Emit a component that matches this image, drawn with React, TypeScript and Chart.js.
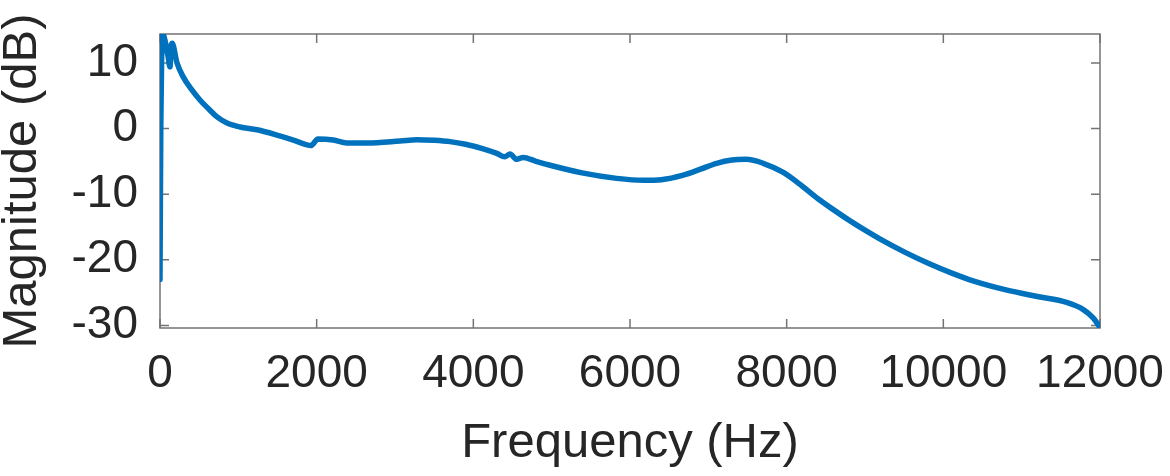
import React, { useEffect, useRef } from "react";
import { Chart, registerables } from "chart.js";

Chart.register(...registerables);

const freqHz = [
  0, 10, 20, 35, 60, 100, 128, 140, 155, 217, 294, 400, 510, 620, 728, 855,
  1021, 1238, 1494, 1702, 1877, 1925, 2017, 2213, 2383, 2638, 3064, 3277, 3500,
  3702, 3900, 4127, 4300, 4400, 4468, 4553, 4638, 4800, 4979, 5404, 5830, 6170,
  6400, 6681, 6900, 7106, 7300, 7480, 7700, 7957, 8200, 8400, 8600, 8800, 9000,
  9200, 9500, 9800, 10100, 10400, 10800, 11200, 11575, 11787, 11915, 12000,
];
const magnitudeDb = [
  -23, 0, 10, 14.4, 13.6, 11.2, 9.4, 12.4, 13.0, 10.0, 7.9, 6.0, 4.35, 3.0, 1.76,
  0.84, 0.23, -0.2, -1.0, -1.76, -2.5, -2.6, -1.6, -1.76, -2.2, -2.2, -1.9, -1.7,
  -1.8, -2.0, -2.4, -3.1, -3.8, -4.3, -3.9, -4.7, -4.4, -5.0, -5.6, -6.8, -7.6,
  -7.9, -7.8, -7.1, -6.2, -5.3, -4.8, -4.7, -5.3, -6.7, -8.8, -10.7, -12.4,
  -14.0, -15.5, -16.9, -18.8, -20.5, -22.0, -23.3, -24.6, -25.6, -26.5, -27.6,
  -28.9, -30.3,
];
const xTicks = [0, 2000, 4000, 6000, 8000, 10000, 12000];
const yTicks = [-30, -20, -10, 0, 10];

const FONT = "'Liberation Sans', Arial, Helvetica, sans-serif";
const AXIS_COLOR = "#737373";
const TEXT_COLOR = "#262626";

const boxPlugin = {
  id: "matlabBox",
  beforeDatasetsDraw(chart: any) {
    const { ctx, chartArea } = chart;
    const { left, right, top, bottom } = chartArea;
    const xs = chart.scales.x;
    const ys = chart.scales.y;
    const len = 9;
    ctx.save();
    ctx.strokeStyle = AXIS_COLOR;
    ctx.lineWidth = 1.5;
    ctx.strokeRect(left, top, right - left, bottom - top);
    ctx.beginPath();
    xTicks.forEach((v) => {
      const px = xs.getPixelForValue(v);
      ctx.moveTo(px, bottom);
      ctx.lineTo(px, bottom - len);
      ctx.moveTo(px, top);
      ctx.lineTo(px, top + len);
    });
    yTicks.forEach((v) => {
      const py = ys.getPixelForValue(v);
      ctx.moveTo(left, py);
      ctx.lineTo(left + len, py);
      ctx.moveTo(right, py);
      ctx.lineTo(right - len, py);
    });
    ctx.stroke();
    ctx.restore();
  },
};

export default function App() {
  const ref = useRef<HTMLCanvasElement | null>(null);
  useEffect(() => {
    document.body.style.margin = "0";
    const canvas = ref.current;
    if (!canvas) return;
    const chart = new Chart(canvas, {
      type: "line",
      data: {
        datasets: [
          {
            data: freqHz.map((f, i) => ({ x: f, y: magnitudeDb[i] })),
            borderColor: "#0072BD",
            borderWidth: 5.5,
            pointRadius: 0,
            fill: false,
            cubicInterpolationMode: "monotone",
            borderCapStyle: "round",
            borderJoinStyle: "round",
          },
        ],
      },
      options: {
        animation: false,
        responsive: false,
        devicePixelRatio: 1,
        layout: { padding: { top: 34, right: 70, left: 0, bottom: 0 } },
        plugins: {
          legend: { display: false },
          tooltip: { enabled: false },
        },
        scales: {
          x: {
            type: "linear",
            position: "bottom",
            min: 0,
            max: 12000,
            grid: { display: false, drawTicks: false },
            border: { display: false },
            afterBuildTicks: (s: any) => {
              s.ticks = xTicks.map((value) => ({ value }));
            },
            afterFit: (s: any) => {
              s.height = 148;
              s.paddingLeft = 0;
              s.paddingRight = 0;
              s.paddingTop = 0;
              s.paddingBottom = 0;
            },
            ticks: {
              padding: 23,
              maxRotation: 0,
              autoSkip: false,
              color: TEXT_COLOR,
              font: { family: FONT, size: 46, lineHeight: 1 },
              callback: (v: any) => String(v),
            },
            title: {
              display: true,
              text: "Frequency (Hz)",
              color: TEXT_COLOR,
              font: { family: FONT, size: 49, lineHeight: 1 },
              padding: { top: 0, bottom: 8 },
            },
          },
          y: {
            type: "linear",
            position: "left",
            min: -30.4,
            max: 14.4,
            grid: { display: false, drawTicks: false },
            border: { display: false },
            afterBuildTicks: (s: any) => {
              s.ticks = yTicks.map((value) => ({ value }));
            },
            afterFit: (s: any) => {
              s.width = 160;
              s.paddingLeft = 0;
              s.paddingRight = 0;
              s.paddingTop = 0;
              s.paddingBottom = 0;
            },
            ticks: {
              padding: 22,
              autoSkip: false,
              color: TEXT_COLOR,
              font: { family: FONT, size: 46, lineHeight: 1 },
              callback: (v: any) => String(v),
            },
            title: {
              display: true,
              text: "Magnitude (dB)",
              color: TEXT_COLOR,
              font: { family: FONT, size: 49, lineHeight: 0.9 },
              padding: 0,
            },
          },
        },
      },
      plugins: [boxPlugin],
    });
    return () => chart.destroy();
  }, []);
  return <canvas ref={ref} width={1170} height={476} style={{ display: "block" }} />;
}
